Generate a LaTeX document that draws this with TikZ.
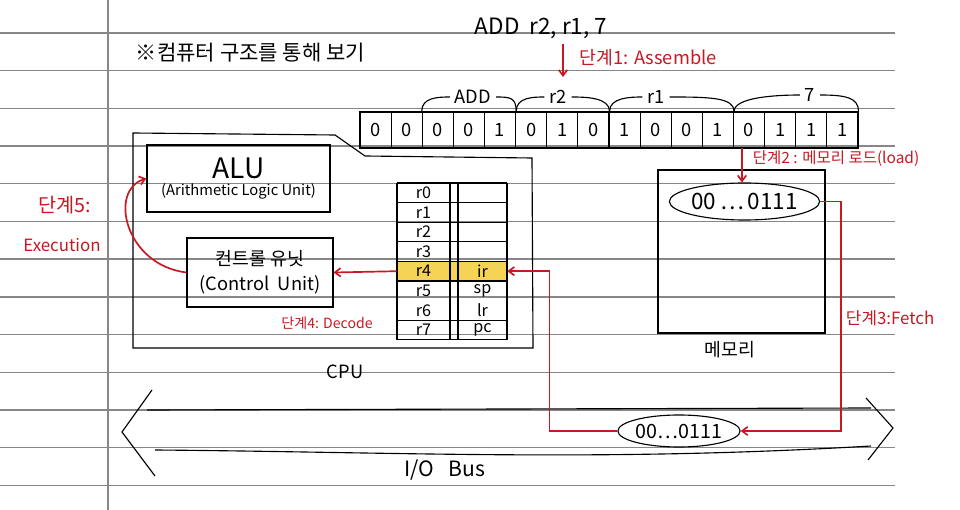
\documentclass[tikz,border=0pt]{standalone}
\usepackage{fontspec}
\setmainfont{Noto Sans CJK KR}
\usetikzlibrary{arrows.meta, positioning, shapes.geometric}
\definecolor{myred}{RGB}{200, 25, 35}
\definecolor{myline}{RGB}{135, 135, 135}
\definecolor{myyellow}{RGB}{245, 212, 85}

\begin{document}
\begin{tikzpicture}[x=0.025cm, y=-0.025cm, >={Straight Barb[length=4pt,width=6pt]},
    box/.style={rectangle, draw, thick, inner sep=0pt},
    bitbox/.style={rectangle, draw, thick, minimum width=0.778cm, minimum height=0.9cm, font=\fontsize{13}{15}\selectfont},
    reg/.style={rectangle, inner sep=0pt, minimum width=1.325cm, minimum height=0.49cm, font=\fontsize{11.5}{13}\selectfont},
    lbl/.style={font=\fontsize{13}{15}\selectfont},
    redtext/.style={text=myred, font=\fontsize{11}{13}\selectfont},
    redarrow/.style={->, myred, line width=1.2pt}]
    \useasboundingbox (0,0) rectangle (960,510);
    \fill[white] (0,0) rectangle (960,510);

    % 줄 공책
    \foreach \k in {0,...,12}
        \draw[myline, line width=1pt] (0,{33+37.7*\k}) -- (895,{33+37.7*\k});
    \draw[myline, line width=1pt] (108,0) -- (108,510);

    % 제목, 명령어
    \node[anchor=west, font=\fontsize{15}{17}\selectfont] (title) at (131,53) {※컴퓨터 구조를 통해 보기};
    \node[anchor=west, font=\fontsize{16}{18}\selectfont] (instr) at (470,28) {ADD\ \ r2, r1, 7};

    % 단계1: Assemble
    \coordinate (asmtop) at (563,44);
    \coordinate (asmbot) at (563,77);
    \draw[redarrow] (asmtop) -- (asmbot);
    \node[redtext, anchor=west, font=\fontsize{13}{15}\selectfont] (asm) at (575,58) {단계1: Assemble};

    % 기계어 비트
    \foreach \b [count=\i] in {0,0,0,0,1,0,1,0,1,0,0,1,0,1,1,1}
        \node[bitbox] (b\i) at ({360+31.125*(\i-0.5)},130) {\b};
    \node[lbl] (gadd) at (473,97) {ADD};
    \node[lbl] (gr2) at (558,97) {r2};
    \node[lbl] (gr1) at (656,97) {r1};
    \node[lbl] (g7) at (810,95) {7};
    \draw[thick] (b3.north west) .. controls +(0,-14) and +(-12,0) .. (gadd.west);
    \draw[thick] (gadd.east) .. controls +(14,0) and +(0,-14) .. (b5.north east);
    \draw[thick] (b5.north east) .. controls +(0,-14) and +(-12,0) .. (gr2.west);
    \draw[thick] (gr2.east) .. controls +(14,0) and +(0,-14) .. (b8.north east);
    \draw[thick] (b8.north east) .. controls +(0,-14) and +(-12,0) .. (gr1.west);
    \draw[thick] (gr1.east) .. controls +(40,0) and +(0,-14) .. (b12.north east);
    \draw[thick] (b12.north east) .. controls +(0,-14) and +(-25,0) .. (g7.west);
    \draw[thick] (g7.east) .. controls +(25,0) and +(0,-14) .. (b16.north east);

    % CPU
    \draw[thick] (133,133) -- (335,135) -- (365,156) -- (532,158) -- (533,348) -- (133,348) -- cycle;
    \node[lbl] (cpu) at (345,372) {CPU};
    \node[box, align=center, minimum width=4.575cm, minimum height=1.675cm] (alu) at (238.5,178.5)
        {{\fontsize{20}{22}\selectfont ALU}\\{\fontsize{10.5}{13}\selectfont (Arithmetic Logic Unit)}};
    \node[box, align=center, minimum width=3.65cm, minimum height=1.725cm, font=\fontsize{13}{18}\selectfont] (cu) at (260,272.5)
        {컨트롤 유닛\\(Control\ \ Unit)};

    % 레지스터
    \fill[myyellow] (397,{183+19.6*4}) rectangle (507,{183+19.6*5});
    \foreach \k in {0,1,2,3,4,5,7,8}
        \draw[thick] (397,{183+19.6*\k}) -- (507,{183+19.6*\k});
    \foreach \x in {397,450,458,507}
        \draw[thick] (\x,183) -- (\x,{183+19.6*8});
    \foreach \i in {0,...,7}
        \node[reg] (r\i) at (423.5,{192.8+19.6*\i}) {r\i};
    \foreach \s [count=\i from 4] in {ir,sp,lr,pc}
        \node[reg, minimum width=1.225cm] (s\i) at (482.5,{192.8+19.6*\i}) {\s};

    % 단계4, 단계5
    \draw[redarrow] (r4.west) -- (cu.east);
    \node[redtext, font=\fontsize{10}{12}\selectfont] (dec) at (327,323) {단계4: Decode};
    \draw[redarrow] (cu.west) .. controls (125,265) and (108,190) .. (alu.west);
    \node[redtext, font=\fontsize{14}{16}\selectfont] (exa) at (65,205) {단계5:};
    \node[redtext, font=\fontsize{12}{14}\selectfont] (exb) at (62,245) {Execution};

    % 메모리
    \node[box, minimum width=4.175cm, minimum height=4.075cm] (mem) at (741.5,251.5) {};
    \node[lbl] (memt) at (730,350) {메모리};
    \node[ellipse, draw, thick, inner sep=0pt, minimum width=3.625cm, minimum height=0.925cm, font=\fontsize{16}{18}\selectfont] (mcell) at (744.5,201.5) {00\,…\,0111};
    \coordinate (ldtop) at (742,148);
    \draw[redarrow] (ldtop) -- (ldtop |- mcell.north);
    \node[redtext, anchor=west] (ld) at (748,159) {단계2 : 메모리 로드(load)};

    % I/O Bus
    \draw[thick] (147,410) -- (871,408);
    \draw[thick] (155,450) .. controls (400,452) and (600,462) .. (871,446);
    \draw[thick] (152,390) -- (122,432) -- (155,476);
    \draw[thick] (866,398) -- (893,428) -- (868,460);
    \node[lbl, font=\fontsize{15}{17}\selectfont] (bus) at (445,470) {I/O\ \ \ Bus};
    \node[ellipse, draw, thick, fill=white, inner sep=0pt, minimum width=2.95cm, minimum height=0.8cm, font=\fontsize{14}{16}\selectfont] (bcell) at (679,431) {00…0111};

    % 단계3: Fetch
    \draw[redarrow] (mcell.east) -- ++(21,0) |- (bcell.east);
    \draw[redarrow] (bcell.west) -- ++(-68,0) |- (s4.east);
    \node[redtext, anchor=west, font=\fontsize{12}{14}\selectfont] (fetch) at (841,318) {단계3:Fetch};
\end{tikzpicture}
\end{document}
